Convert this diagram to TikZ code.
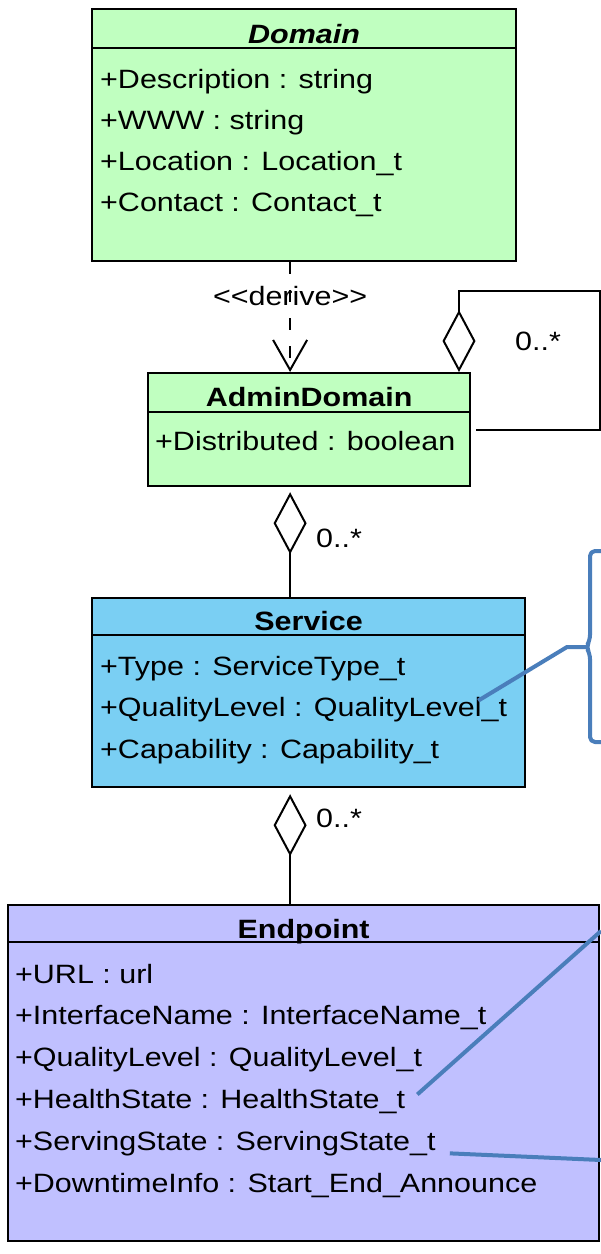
\documentclass[tikz,border=0pt]{standalone}
\usepackage{fontspec}
\setmainfont[FakeStretch=1.15]{Liberation Sans}
\usetikzlibrary{arrows.meta}
\definecolor{domaingreen}{RGB}{192,255,192}
\definecolor{serviceblue}{RGB}{122,207,243}
\definecolor{endpointlilac}{RGB}{192,192,255}
\definecolor{noteblue}{RGB}{74,126,187}

\begin{document}
\begin{tikzpicture}[
x=1pt, y=-1pt,
umlclass/.style={draw, line width=2.2pt, anchor=north west, inner sep=0pt},
divider/.style={line width=2pt},
classname/.style={anchor=base, inner sep=0pt, font=\fontsize{26.5}{30}\selectfont\bfseries},
attr/.style={anchor=base west, inner sep=0pt, font=\fontsize{26.5}{30}\selectfont},
mult/.style={anchor=base west, inner sep=0pt, font=\fontsize{26.5}{30}\selectfont},
derive/.style={line width=2pt, dash pattern=on 12pt off 16pt, -{Straight Barb[length=30pt, width=34pt]}},
agg/.style={line width=2pt, -{Diamond[open, length=62pt, width=33pt]}},
selfagg/.style={line width=2pt, {Diamond[open, length=62pt, width=33pt]}-},
callout/.style={draw=noteblue, line width=4pt, line join=round}
]
\path[use as bounding box, fill=white] (0,0) rectangle (601,1254);

\node[umlclass, fill=domaingreen, minimum width=424pt, minimum height=252pt] (domain) at (91,8) {};
\draw[divider] ([yshift=-40pt]domain.north west) -- ([yshift=-40pt]domain.north east);
\node[classname] (domaintitle) at ([yshift=-35pt]domain.north) {\textit{Domain}};
\foreach \txt [count=\i] in {+Description : string, +WWW : string, +Location : Location\_t, +Contact : Contact\_t}
  \node[attr] (domainattr\i) at (100,{88+41*(\i-1)}) {\txt};

\node[umlclass, fill=domaingreen, minimum width=322pt, minimum height=113pt] (admin) at (147,372) {};
\draw[divider] ([yshift=-40pt]admin.north west) -- ([yshift=-40pt]admin.north east);
\node[classname] (admintitle) at ([yshift=-34pt]admin.north) {AdminDomain};
\node[attr] (adminattr1) at (155,450) {+Distributed : boolean};

\node[umlclass, fill=serviceblue, minimum width=433pt, minimum height=189pt] (service) at (91,597) {};
\draw[divider] ([yshift=-38pt]service.north west) -- ([yshift=-38pt]service.north east);
\node[classname] (servicetitle) at ([yshift=-33pt]service.north) {Service};
\foreach \txt [count=\i] in {+Type : ServiceType\_t, +QualityLevel : QualityLevel\_t, +Capability : Capability\_t}
  \node[attr] (serviceattr\i) at (100,{675+41.5*(\i-1)}) {\txt};

\node[umlclass, fill=endpointlilac, minimum width=591pt, minimum height=336pt] (endpoint) at (7,904) {};
\draw[divider] ([yshift=-38pt]endpoint.north west) -- ([yshift=-38pt]endpoint.north east);
\node[classname] (endpointtitle) at ([yshift=-34pt]endpoint.north) {Endpoint};
\foreach \txt [count=\i] in {+URL : url, +InterfaceName : InterfaceName\_t, +QualityLevel : QualityLevel\_t, +HealthState : HealthState\_t, +ServingState : ServingState\_t, +DowntimeInfo : Start\_End\_Announce}
  \node[attr] (endpointattr\i) at (15,{983+41.8*(\i-1)}) {\txt};

\draw[derive] ([xshift=-14pt]domain.south) -- ([xshift=-19pt]admin.north)
  node[pos=0.31, inner sep=0pt, font=\fontsize{26.5}{30}\selectfont] (derivelabel) {<\kern0pt<derive>\kern0pt>};
\draw[selfagg, shorten >=5pt] (459,0 |- admin.north) |- (600,291) |- (admin.east |- 0,430);
\node[mult] (selfmult) at (515,350) {0..*};
\draw[agg] ([xshift=-18.5pt]service.north) -- ([xshift=-19pt, yshift=-5pt]admin.south);
\node[mult] (servicemult) at (316,547) {0..*};
\draw[agg] ([xshift=-13.5pt]endpoint.north) -- ([xshift=-18.5pt, yshift=-6pt]service.south);
\node[mult] (endpointmult) at (316,827) {0..*};

\coordinate (servicenote) at ([xshift=-29pt, yshift=9pt]serviceattr2.east);
\coordinate (bracebend) at (567,647);
\coordinate (bracetip) at (586,647);
\draw[callout, rounded corners=5pt] (601,551) -- (590,551) -- (590,640) -- (bracetip) -- (590,654) -- (590,742) -- (601,742);
\draw[callout] (servicenote) -- (bracebend) -- (bracetip);
\coordinate (healthnote) at ([xshift=12pt, yshift=7pt]endpointattr4.east);
\coordinate (healthnoteend) at (601,931);
\draw[callout] (healthnote) -- (healthnoteend);
\coordinate (servingnote) at ([xshift=14pt, yshift=-10pt]endpointattr5.east);
\coordinate (servingnoteend) at (601,1160);
\draw[callout] (servingnote) -- (servingnoteend);
\end{tikzpicture}
\end{document}
